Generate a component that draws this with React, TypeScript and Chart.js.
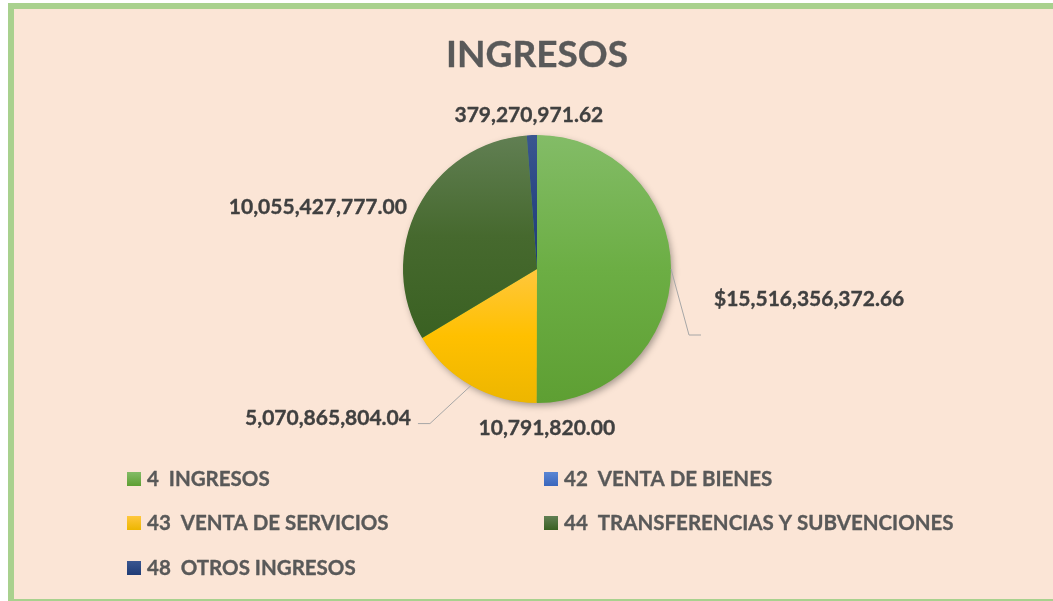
import React, { useEffect, useRef } from "react";
import { Chart, registerables } from "chart.js";

Chart.register(...registerables);

// ---------- data ----------
const TITLE = "INGRESOS";
const CATEGORIES = [
  "4  INGRESOS",
  "42  VENTA DE BIENES",
  "43  VENTA DE SERVICIOS",
  "44  TRANSFERENCIAS Y SUBVENCIONES",
  "48  OTROS INGRESOS",
];
const VALUES = [15516356372.66, 10791820.0, 5070865804.04, 10055427777.0, 379270971.62];
const CURRENCY_PREFIX = ["$", "", "", "", ""];

// ---------- styles ----------
const GRADIENTS: string[][] = [
  ["#83BC67", "#6CAE44", "#5E9F33"],
  ["#5A86D4", "#4472C4", "#3A66BC"],
  ["#FFC73D", "#FFC000", "#EDB600"],
  ["#617F53", "#46692E", "#3A6122"],
  ["#3A5690", "#2A4784", "#1F3C76"],
];
const FONT = "Lato, 'Open Sans', sans-serif";
const TITLE_COLOR = "#595959";
const LABEL_COLOR = "#404040";
const LEGEND_COLOR = "#595959";
const LEADER_COLOR = "#A6A6A6";
const BG = "#FBE5D6";
const FRAME = "#A9D18E";

// label placement relative to the outer mid-point of each slice
const LABEL_PLACEMENT = [
  { dx: 43, dy: 29, align: "left", leader: [[18, 66], [30, 66]] },
  { dx: 10, dy: 24, align: "center", leader: null },
  { dx: -60, dy: 32, align: "right", leader: [[-41, 38], [-53, 38]] },
  { dx: -11, dy: -1, align: "right", leader: null },
  { dx: -3, dy: -21, align: "center", leader: null },
];

const LEGEND_LAYOUT = {
  cols: [127, 544],
  rows: [479, 523, 568],
  box: 14,
  textGap: 6,
  fontSize: 20.5,
};

function fmt(v: number, i: number) {
  return (
    CURRENCY_PREFIX[i] +
    v.toLocaleString("en-US", { minimumFractionDigits: 2, maximumFractionDigits: 2 })
  );
}

function sectorYRange(cy: number, r: number, a0: number, a1: number) {
  let ymin = cy;
  let ymax = cy;
  const consider = (a: number) => {
    const y = cy + r * Math.sin(a);
    ymin = Math.min(ymin, y);
    ymax = Math.max(ymax, y);
  };
  consider(a0);
  consider(a1);
  for (let k = -4; k <= 4; k++) {
    const top = -Math.PI / 2 + k * 2 * Math.PI;
    const bot = Math.PI / 2 + k * 2 * Math.PI;
    if (top > a0 && top < a1) ymin = cy - r;
    if (bot > a0 && bot < a1) ymax = cy + r;
  }
  return [ymin, ymax];
}

function boldText(c: CanvasRenderingContext2D, text: string, x: number, y: number, color: string) {
  c.fillStyle = color;
  c.strokeStyle = color;
  c.lineWidth = 0.35;
  c.lineJoin = "round";
  c.fillText(text, x, y);
  c.strokeText(text, x, y);
}

export default function App() {
  const ref = useRef<HTMLCanvasElement | null>(null);

  useEffect(() => {
    const canvas = ref.current;
    if (!canvas) return;
    const total = VALUES.reduce((a, b) => a + b, 0);

    const bgColor = (ctx: any) => {
      const chart = ctx.chart;
      const area = chart.chartArea;
      const i = ctx.dataIndex;
      const stops = GRADIENTS[i];
      if (!area || i === undefined) return stops[1];
      const cx = (area.left + area.right) / 2;
      const cy = (area.top + area.bottom) / 2;
      const r = Math.min(area.width, area.height) / 2;
      let start = -Math.PI / 2;
      for (let k = 0; k < i; k++) start += (VALUES[k] / total) * 2 * Math.PI;
      const end = start + (VALUES[i] / total) * 2 * Math.PI;
      const [y0, y1] = sectorYRange(cy, r, start, end);
      const g = chart.ctx.createLinearGradient(cx, y0, cx, Math.max(y1, y0 + 1));
      g.addColorStop(0, stops[0]);
      g.addColorStop(0.5, stops[1]);
      g.addColorStop(1, stops[2]);
      return g;
    };

    const shadowPlugin = {
      id: "pieShadow",
      beforeDatasetsDraw(chart: any) {
        const el = chart.getDatasetMeta(0).data[0];
        if (!el) return;
        const { x, y, outerRadius } = el.getProps(["x", "y", "outerRadius"], true);
        const c = chart.ctx;
        c.save();
        c.shadowColor = "rgba(0,0,0,0.35)";
        c.shadowBlur = 7;
        c.shadowOffsetX = 2;
        c.shadowOffsetY = 3;
        c.fillStyle = "#6CAE44";
        c.beginPath();
        c.arc(x, y, outerRadius - 0.5, 0, Math.PI * 2);
        c.fill();
        c.restore();
      },
    };

    const decorPlugin = {
      id: "decor",
      afterDatasetsDraw(chart: any) {
        const c = chart.ctx;
        const meta = chart.getDatasetMeta(0);
        // title
        c.save();
        c.font = `bold 37px ${FONT}`;
        c.textAlign = "center";
        c.textBaseline = "alphabetic";
        boldText(c, TITLE, 537, 54 + 0.3585 * 37, TITLE_COLOR);
        c.restore();

        // data labels
        meta.data.forEach((el: any, i: number) => {
          const p = el.getProps(["x", "y", "startAngle", "endAngle", "outerRadius"], true);
          const mid = (p.startAngle + p.endAngle) / 2;
          const ax = p.x + p.outerRadius * Math.cos(mid);
          const ay = p.y + p.outerRadius * Math.sin(mid);
          const pl = LABEL_PLACEMENT[i];
          if (pl.leader) {
            c.save();
            c.strokeStyle = LEADER_COLOR;
            c.lineWidth = 1;
            c.beginPath();
            c.moveTo(ax, ay);
            pl.leader.forEach((pt: number[]) => c.lineTo(ax + pt[0], ay + pt[1]));
            c.stroke();
            c.restore();
          }
          c.save();
          c.font = `bold 21px ${FONT}`;
          c.textAlign = pl.align as CanvasTextAlign;
          c.textBaseline = "alphabetic";
          boldText(c, fmt(VALUES[i], i), ax + pl.dx, ay + pl.dy + 0.3585 * 21, LABEL_COLOR);
          c.restore();
        });

        // legend
        const order = [0, 1, 2, 3, 4];
        const fs = LEGEND_LAYOUT.fontSize;
        order.forEach((idx, n) => {
          const col = n % 2;
          const row = Math.floor(n / 2);
          const bx = LEGEND_LAYOUT.cols[col];
          const cyRow = LEGEND_LAYOUT.rows[row];
          const s = LEGEND_LAYOUT.box;
          const by = cyRow - s / 2;
          const g = c.createLinearGradient(0, by, 0, by + s);
          g.addColorStop(0, GRADIENTS[idx][0]);
          g.addColorStop(1, GRADIENTS[idx][2]);
          c.save();
          c.fillStyle = g;
          c.fillRect(bx, by, s, s);
          c.font = `bold ${fs}px ${FONT}`;
          c.textAlign = "left";
          c.textBaseline = "alphabetic";
          boldText(c, CATEGORIES[idx], bx + s + LEGEND_LAYOUT.textGap, cyRow + 0.3585 * fs, LEGEND_COLOR);
          c.restore();
        });
      },
    };

    const chart = new Chart(canvas, {
      type: "pie",
      data: {
        labels: CATEGORIES,
        datasets: [
          {
            data: VALUES,
            backgroundColor: bgColor as any,
            borderWidth: 0,
            hoverOffset: 0,
            offset: 0,
          },
        ],
      },
      options: {
        responsive: false,
        maintainAspectRatio: false,
        animation: false,
        events: [],
        layout: { padding: { left: 403, right: 382, top: 135, bottom: 198 } },
        plugins: {
          legend: { display: false },
          title: { display: false },
          tooltip: { enabled: false },
        },
      },
      plugins: [shadowPlugin, decorPlugin],
    });

    return () => chart.destroy();
  }, []);

  return (
    <div
      style={{
        position: "fixed",
        left: 0,
        top: 0,
        width: 1053,
        height: 601,
        overflow: "hidden",
        background: "#ffffff",
      }}
    >
      <div
        style={{
          position: "absolute",
          left: 8,
          top: 3,
          width: 1200,
          height: 602,
          boxSizing: "border-box",
          background: BG,
          borderTop: `6px solid ${FRAME}`,
          borderLeft: `6px solid ${FRAME}`,
          borderBottom: `6px solid ${FRAME}`,
        }}
      />
      <canvas
        ref={ref}
        width={1053}
        height={601}
        style={{ position: "absolute", left: 0, top: 0, width: 1053, height: 601, display: "block" }}
      />
    </div>
  );
}
